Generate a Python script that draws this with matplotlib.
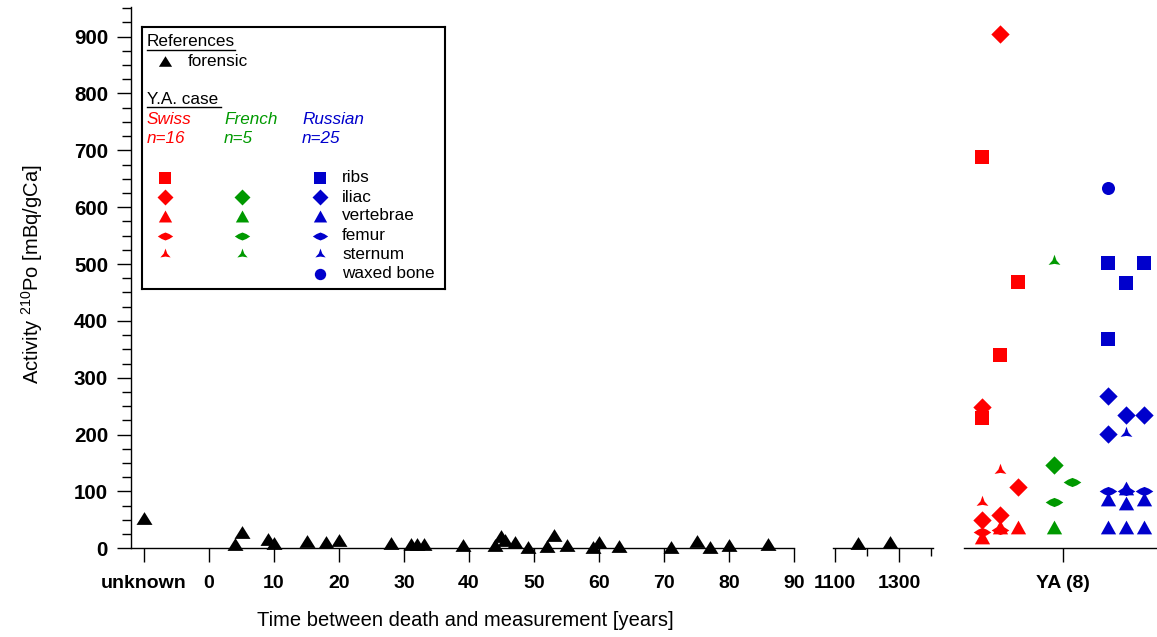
import matplotlib
matplotlib.use('Agg')
import matplotlib.pyplot as plt
from matplotlib.path import Path
from matplotlib.ticker import FixedLocator, MultipleLocator

plt.rcParams['font.family'] = ['Liberation Sans', 'DejaVu Sans']
plt.rcParams['mathtext.fontset'] = 'custom'
plt.rcParams['mathtext.rm'] = 'Liberation Sans'

# forensic references: years between death and measurement, activity (mBq/gCa)
unknown_value = [53]
forensic_years = [4, 5, 9, 10, 15, 18, 20, 28, 31, 32, 33, 39, 44, 45, 45.5, 47, 49, 52,
                  53, 55, 59, 60, 63, 71, 75, 77, 80, 86]
forensic_values = [8, 29, 17, 9, 12, 11, 15, 9, 7, 7, 7, 6, 5, 22, 15, 11, 3, 4,
                   23, 6, 3, 11, 4, 3, 12, 3, 6, 7]
old_years = [1172, 1271]
old_values = [9, 11]

# Y.A. case (x = jitter position around the "YA (8)" category)
swiss_ribs_x = [-8.1, -4.5, -6.3, -8.1]
swiss_ribs = [689, 469, 340, 229]
swiss_iliac_x = [-6.3, -8.1, -4.5, -6.3, -8.1]
swiss_iliac = [905, 249, 107, 59, 49]
swiss_vert_x = [-4.5, -6.3, -8.1]
swiss_vert = [37, 38, 20]
swiss_femur_x = [-6.3, -8.1]
swiss_femur = [33, 29]
swiss_sternum_x = [-6.3, -8.1]
swiss_sternum = [138, 81]

french_iliac_x = [-0.9]
french_iliac = [147]
french_vert_x = [-0.9]
french_vert = [38]
french_femur_x = [0.9, -0.9]
french_femur = [117, 82]
french_sternum_x = [-0.9]
french_sternum = [506]

russian_ribs_x = [4.5, 8.1, 6.3, 4.5]
russian_ribs = [501, 501, 467, 368]
russian_iliac_x = [4.5, 6.3, 8.1, 4.5]
russian_iliac = [268, 235, 235, 201]
russian_vert_x = [4.5, 6.3, 8.1, 4.5, 6.3, 8.1, 6.3]
russian_vert = [86, 80, 86, 37, 37, 37, 106]
russian_femur_x = [4.5, 6.3, 8.1]
russian_femur = [100, 100, 100]
russian_sternum_x = [6.3]
russian_sternum = [202]
russian_waxed_x = [4.5]
russian_waxed = [633]

RED = '#ff0000'
GREEN = '#009900'
BLUE = '#0000cc'

# marker shapes
def shape(verts):
    return Path(verts + [verts[0]], closed=True)

m_tri_ref = shape([(-1, -0.8), (1, -0.8), (0, 0.8)])
m_tri = shape([(-1, -0.9), (1, -0.9), (0, 0.9)])
m_square = shape([(-1, -1), (1, -1), (1, 1), (-1, 1)])
m_diamond = shape([(0, 1), (1, 0), (0, -1), (-1, 0)])
m_femur = shape([(-1, 0), (-0.5, 0.32), (0, 0.52), (0.5, 0.32), (1, 0),
                 (0.5, -0.32), (0, -0.52), (-0.5, -0.32)])
m_sternum = shape([(0, 1), (0.3, 0.15), (0.87, -0.5), (0, -0.35), (-0.87, -0.5),
                   (-0.3, 0.15)])

ms = {'ribs': 9.6, 'iliac': 13.2, 'vert': 11.0, 'femur': 12.7, 'sternum': 9.8, 'waxed': 9.4}
mk = {'ribs': m_square, 'iliac': m_diamond, 'vert': m_tri, 'femur': m_femur,
      'sternum': m_sternum, 'waxed': 'o'}

W, H = 1157, 637
fig = plt.figure(figsize=(W / 100, H / 100), dpi=100)


def px_axes(x0, x1, y_top, y_bot):
    return fig.add_axes([x0 / W, 1 - y_bot / H, (x1 - x0) / W, (y_bot - y_top) / H])


ax1 = px_axes(131, 794, 7, 548.3)
ax2 = px_axes(833.3, 933.3, 7, 548.3)
ax3 = px_axes(964.3, 1157, 7, 548.3)

for ax in (ax1, ax2, ax3):
    ax.set_ylim(0, 952)
    ax.set_facecolor('none')
    ax.spines['top'].set_visible(False)
    ax.spines['right'].set_visible(False)
    ax.spines['bottom'].set_linewidth(1.0)
    ax.tick_params(axis='x', direction='out', length=10, width=1, pad=9,
                   labelsize=14)

for ax in (ax2, ax3):
    ax.spines['left'].set_visible(False)
    ax.tick_params(axis='y', left=False, labelleft=False)
    ax.yaxis.set_minor_locator(FixedLocator([]))

# left axis
ax1.spines['left'].set_linewidth(1.0)
ax1.yaxis.set_major_locator(MultipleLocator(100))
ax1.yaxis.set_minor_locator(MultipleLocator(25))
ax1.tick_params(axis='y', which='major', direction='out', length=10, width=1, pad=6.5,
                labelsize=14.8)
ax1.tick_params(axis='y', which='minor', direction='out', length=6.5, width=1)
ax1.set_yticks(range(0, 1000, 100))

# segment 1: unknown + 0..90 years
ax1.set_xlim(-12, 90)
ax1.set_xticks([-10] + list(range(0, 100, 10)))
ax1.set_xticklabels(['unknown'] + [str(v) for v in range(0, 100, 10)])
ax1.plot([-10] * len(unknown_value), unknown_value, ls='none', marker=m_tri_ref,
         ms=11.5, color='black', mew=0, clip_on=False)
ax1.plot(forensic_years, forensic_values, ls='none', marker=m_tri_ref, ms=11.5,
         color='black', mew=0, clip_on=False)

# segment 2: 1100..1400 years
ax2.set_xlim(1096, 1406)
ax2.set_xticks([1100, 1300])
ax2.set_xticklabels(['1100', '1300'])
ax2.xaxis.set_minor_locator(FixedLocator([1200, 1400]))
ax2.tick_params(axis='x', which='minor', direction='out', length=6, width=1)
ax2.plot(old_years, old_values, ls='none', marker=m_tri_ref, ms=11.5, color='black',
         mew=0, clip_on=False)

# segment 3: Y.A. case
ax3.set_xlim(-9.87, 9.4)
ax3.set_xticks([0])
ax3.set_xticklabels(['YA (8)'])

groups = [
    (RED, 'ribs', swiss_ribs_x, swiss_ribs),
    (RED, 'iliac', swiss_iliac_x, swiss_iliac),
    (RED, 'vert', swiss_vert_x, swiss_vert),
    (RED, 'femur', swiss_femur_x, swiss_femur),
    (RED, 'sternum', swiss_sternum_x, swiss_sternum),
    (GREEN, 'iliac', french_iliac_x, french_iliac),
    (GREEN, 'vert', french_vert_x, french_vert),
    (GREEN, 'femur', french_femur_x, french_femur),
    (GREEN, 'sternum', french_sternum_x, french_sternum),
    (BLUE, 'ribs', russian_ribs_x, russian_ribs),
    (BLUE, 'iliac', russian_iliac_x, russian_iliac),
    (BLUE, 'vert', russian_vert_x, russian_vert),
    (BLUE, 'femur', russian_femur_x, russian_femur),
    (BLUE, 'sternum', russian_sternum_x, russian_sternum),
    (BLUE, 'waxed', russian_waxed_x, russian_waxed),
]
for col, bone, xs, ys in groups:
    ax3.plot(xs, ys, ls='none', marker=mk[bone], ms=ms[bone], color=col, mew=0,
             clip_on=False)

for ax in (ax1, ax2, ax3):
    for lab in ax.get_xticklabels():
        lab.set_fontweight('bold')
for lab in ax1.get_yticklabels():
    lab.set_fontweight('bold')

fig.text(32 / W, 1 - 274 / H, r'Activity $^{\mathrm{210}}$Po [mBq/gCa]', rotation=90,
         ha='center', va='center', fontsize=14.5)
fig.text(465 / W, 1 - 620 / H, 'Time between death and measurement [years]',
         ha='center', va='center', fontsize=14.5)

# legend box (pixel coordinates inside the box)
lg = px_axes(141.7, 445, 27.3, 288.7)
lg.set_xlim(0, 303.3)
lg.set_ylim(261.4, 0)
lg.set_xticks([])
lg.set_yticks([])
lg.set_facecolor('white')
for sp in lg.spines.values():
    sp.set_linewidth(1.5)

fs = 12.3
lg.text(5.3, 14.4, 'References', fontsize=fs, va='center')
lg.plot([5.3, 93], [22.5, 22.5], color='black', lw=1)
lg.plot([23.3], [33.7], ls='none', marker=m_tri_ref, ms=9.5, color='black', mew=0)
lg.text(46.3, 33.7, 'forensic', fontsize=fs, va='center')
lg.text(5.3, 71.7, 'Y.A. case', fontsize=fs, va='center')
lg.plot([5.3, 79.5], [80, 80], color='black', lw=1)

for xc, name, n, col in [(5.3, 'Swiss', 'n=16', RED), (82.3, 'French', 'n=5', GREEN),
                         (160.3, 'Russian', 'n=25', BLUE)]:
    lg.text(xc, 91.7, name, fontsize=fs, va='center', style='italic', color=col)
    lg.text(xc, 110.7, n, fontsize=fs, va='center', style='italic', color=col)

rows = {'ribs': 150.7, 'iliac': 169.7, 'vert': 188.7, 'femur': 208.7, 'sternum': 227.0,
        'waxed': 246.7}
labels = {'ribs': 'ribs', 'iliac': 'iliac', 'vert': 'vertebrae', 'femur': 'femur',
          'sternum': 'sternum', 'waxed': 'waxed bone'}
columns = [(23.3, RED, ['ribs', 'iliac', 'vert', 'femur', 'sternum']),
           (100.3, GREEN, ['iliac', 'vert', 'femur', 'sternum']),
           (178.3, BLUE, ['ribs', 'iliac', 'vert', 'femur', 'sternum', 'waxed'])]
for xc, col, bones in columns:
    for b in bones:
        lg.plot([xc], [rows[b]], ls='none', marker=mk[b], ms=ms[b] * 0.87, color=col,
                mew=0)
for b, yv in rows.items():
    lg.text(200.3, yv, labels[b], fontsize=fs, va='center')

fig.savefig('out.png', dpi=100)
